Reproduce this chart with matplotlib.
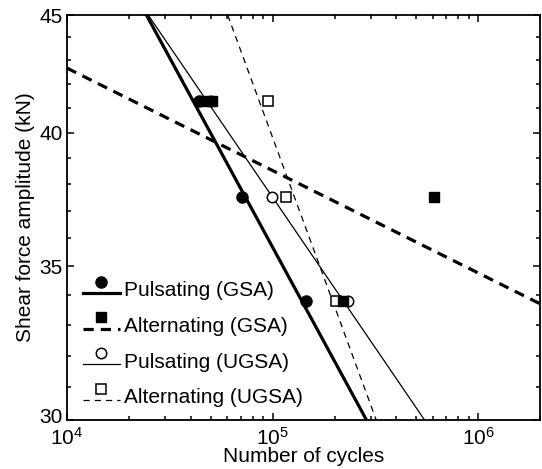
import numpy as np
import matplotlib
matplotlib.use("Agg")
import matplotlib.pyplot as plt
import matplotlib.transforms as mtransforms
from matplotlib.lines import Line2D
from matplotlib.legend_handler import HandlerBase
from matplotlib.ticker import FixedLocator, NullFormatter, LogLocator

plt.rcParams['font.family'] = ['Liberation Sans', 'DejaVu Sans']
plt.rcParams['mathtext.fontset'] = 'custom'
plt.rcParams['mathtext.rm'] = 'Liberation Sans'

# test results: cycles to failure vs shear force amplitude (kN)
puls_gsa_n = [44000, 71000, 145000]
puls_gsa_s = [41.3, 37.5, 33.8]
alt_gsa_n = [47000, 50500, 219000, 612000]
alt_gsa_s = [41.3, 41.3, 33.8, 37.5]
puls_ugsa_n = [50000, 99500, 232000]
puls_ugsa_s = [41.3, 37.5, 33.8]
alt_ugsa_n = [95000, 116000, 203000]
alt_ugsa_s = [41.3, 37.5, 33.8]

# fitted S-N lines (end points)
fit_puls_gsa_n = [24340, 286000]
fit_puls_gsa_s = [45, 30]
fit_alt_gsa_n = [1e4, 2e6]
fit_alt_gsa_s = [42.67, 33.7]
fit_puls_ugsa_n = [24830, 548000]
fit_puls_ugsa_s = [45, 30]
fit_alt_ugsa_n = [60450, 319000]
fit_alt_ugsa_s = [45, 30]

labels = ["Pulsating (GSA)", "Alternating (GSA)", "Pulsating (UGSA)", "Alternating (UGSA)"]

FS = 15


class MarkerOverLine(HandlerBase):
    # legend key with the symbol sitting above a short line sample
    def create_artists(self, legend, orig_handle, xdescent, ydescent,
                       width, height, fontsize, trans):
        yc = height / 2 - ydescent
        seg = Line2D([-xdescent, width - xdescent], [yc - 2.5, yc - 2.5])
        seg.update_from(orig_handle)
        seg.set_marker('None')
        seg.set_transform(trans)
        mk = Line2D([width / 2 - xdescent], [yc + 5.5])
        mk.update_from(orig_handle)
        mk.set_linestyle('None')
        mk.set_transform(trans)
        return [seg, mk]


fig = plt.figure(figsize=(5.42, 4.69), dpi=100)
ax = fig.add_axes([0.1236, 0.1045, 0.873, 0.8635])

l1, = ax.plot(fit_puls_gsa_n, fit_puls_gsa_s, color='k', lw=2.3, ls='-',
              marker='o', ms=8, mfc='k', mec='k', markevery=[])
l2, = ax.plot(fit_alt_gsa_n, fit_alt_gsa_s, color='k', lw=2.3, ls=(0, (3.2, 2.2)),
              marker='s', ms=7, mfc='k', mec='k', markevery=[])
l3, = ax.plot(fit_puls_ugsa_n, fit_puls_ugsa_s, color='k', lw=0.9, ls='-',
              marker='o', ms=7.5, mfc='white', mec='k', mew=1.1, markevery=[])
l4, = ax.plot(fit_alt_ugsa_n, fit_alt_ugsa_s, color='k', lw=0.9, ls=(0, (5, 4)),
              marker='s', ms=7, mfc='white', mec='k', mew=1.1, markevery=[])

ax.plot(puls_ugsa_n, puls_ugsa_s, 'o', ms=7.5, mfc='white', mec='k', mew=1.1)
ax.plot(alt_ugsa_n, alt_ugsa_s, 's', ms=7, mfc='white', mec='k', mew=1.1)
ax.plot(alt_gsa_n, alt_gsa_s, 's', ms=7, mfc='k', mec='k')
ax.plot(puls_gsa_n, puls_gsa_s, 'o', ms=8, mfc='k', mec='k')

ax.set_xscale('log')
ax.set_yscale('log')
ax.set_xlim(1e4, 2e6)
ax.set_ylim(30, 45)

ax.xaxis.set_major_locator(LogLocator(base=10, numticks=10))
ax.xaxis.set_minor_locator(LogLocator(base=10, subs=np.arange(2, 10), numticks=20))
ax.xaxis.set_minor_formatter(NullFormatter())
ax.yaxis.set_major_locator(FixedLocator([30, 35, 40, 45]))
ax.yaxis.set_minor_locator(FixedLocator([y for y in range(31, 45) if y % 5]))
ax.yaxis.set_minor_formatter(NullFormatter())
ax.set_yticklabels(['30', '35', '40', '45'])

ax.tick_params(which='both', direction='in', top=True, right=True, labelsize=FS, width=1.1)
ax.tick_params(which='major', length=5, pad=3)
ax.tick_params(axis='x', which='major', pad=5)
ax.tick_params(which='minor', length=3)
for sp in ax.spines.values():
    sp.set_linewidth(1.3)

# lift the bottom "30" a little so it clears the 10^4 label
lbl30 = ax.get_yticklabels()[0]
lbl30.set_transform(lbl30.get_transform() +
                    mtransforms.ScaledTranslation(0, 3 / 72, fig.dpi_scale_trans))

ax.set_xlabel("Number of cycles", fontsize=FS, labelpad=-1)
ax.set_ylabel("Shear force amplitude (kN)", fontsize=FS, labelpad=3)

ax.legend([l1, l2, l3, l4], labels, handler_map={Line2D: MarkerOverLine()},
          loc='lower left', bbox_to_anchor=(0.02, 0.015), frameon=False,
          fontsize=FS, handlelength=1.8, handletextpad=0.2,
          handleheight=1.3, labelspacing=0.62, borderpad=0.3, borderaxespad=0)

fig.savefig("out.png", dpi=100)
